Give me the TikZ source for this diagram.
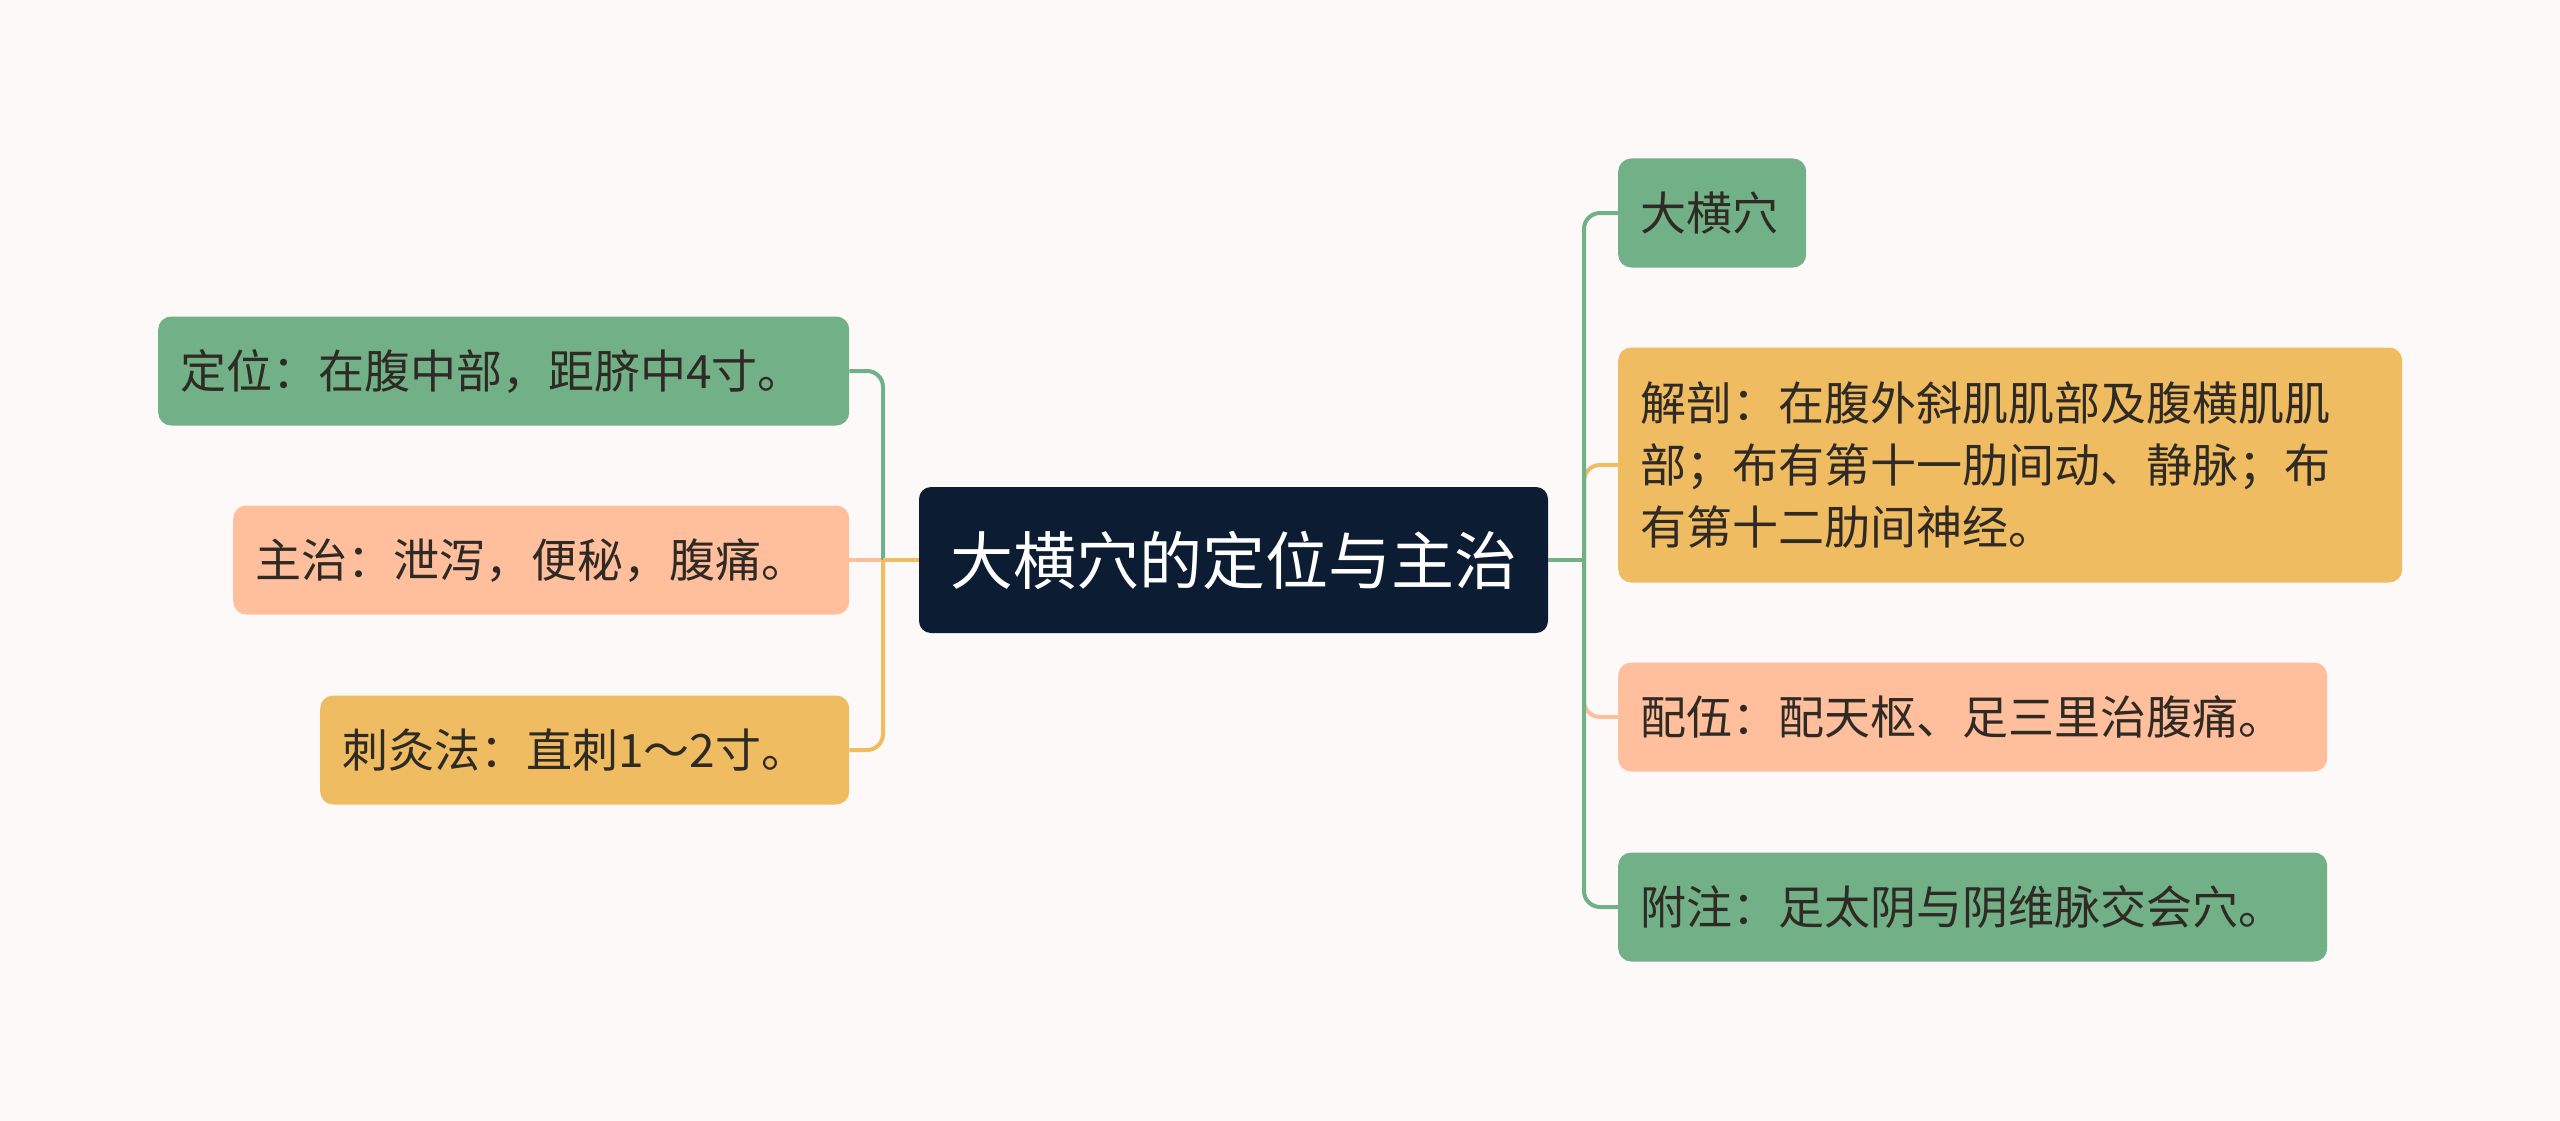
\documentclass[tikz,border=0pt]{standalone}
\usepackage{fontspec}
\setmainfont{Noto Sans CJK SC}
\usetikzlibrary{positioning}
\definecolor{bgpaper}{HTML}{FCF9F8}
\definecolor{colroot}{HTML}{0C1C33}
\definecolor{colgreen}{HTML}{72B088}
\definecolor{colsalmon}{HTML}{FFBE9C}
\definecolor{colyellow}{HTML}{EFBC62}
\definecolor{coltext}{HTML}{2F2B24}

\tikzset{
  rootbox/.style={fill=colroot, text=white, rounded corners=12pt,
    minimum width=629pt, minimum height=146pt, inner sep=0pt,
    font=\fontsize{63}{70}\selectfont},
  leaf/.style={rounded corners=13pt, minimum height=109pt, inner xsep=22pt,
    inner ysep=0pt, text=coltext, align=left, anchor=west,
    font=\fontsize{46}{62}\selectfont},
  link/.style={line width=4pt, rounded corners=16pt},
}

\begin{document}
\begin{tikzpicture}[x=1pt, y=-1pt]
  % ── CANVAS ─────────────────────────────────
  \fill[bgpaper] (0,0) rectangle (2560,1121);
  \useasboundingbox (0,0) rectangle (2560,1121);

  % ── ROOT ───────────────────────────────────
  \node[rootbox] (root) at (1233.5,560) {大横穴的定位与主治};

  % ── LEFT BRANCHES ──────────────────────────
  \node[leaf, fill=colgreen, text width=647pt] (dw) at (158,371)
    {定位：在腹中部，距脐中4寸。};
  \node[leaf, fill=colsalmon, text width=572pt] (zz) at (233,560)
    {主治：泄泻，便秘，腹痛。};
  \node[leaf, fill=colyellow, text width=485pt] (cj) at (320,750)
    {刺灸法：直刺1～2寸。};

  % ── RIGHT BRANCHES ─────────────────────────
  \node[leaf, fill=colgreen, text width=144pt] (dh) at (1618,213)
    {大横穴};
  \node[leaf, fill=colyellow, text width=740pt, minimum height=235pt] (jp) at (1618,465)
    {解剖：在腹外斜肌肌部及腹横肌肌\\部；布有第十一肋间动、静脉；布\\有第十二肋间神经。};
  \node[leaf, fill=colsalmon, text width=665pt] (pw) at (1618,717)
    {配伍：配天枢、足三里治腹痛。};
  \node[leaf, fill=colgreen, text width=665pt] (fz) at (1618,907)
    {附注：足太阴与阴维脉交会穴。};

  % ── CONNECTORS ─────────────────────────────
  \coordinate (jl) at (883,560);
  \coordinate (jr) at (1584,560);
  \draw[link, colsalmon] (jl) -- (zz.east);
  \draw[link, colyellow] (jl) |- (cj.east);
  \draw[link, colgreen] (jl) |- (dw.east);
  \draw[link, colyellow, rounded corners=0pt] (root.west) -- (jl);

  \draw[link, colyellow] (jr) |- (jp.west);
  \draw[link, colsalmon] (jr) |- (pw.west);
  \draw[link, colgreen] (jr) |- (dh.west);
  \draw[link, colgreen] (jr) |- (fz.west);
  \draw[link, colgreen, rounded corners=0pt] (root.east) -- (jr);
\end{tikzpicture}
\end{document}
